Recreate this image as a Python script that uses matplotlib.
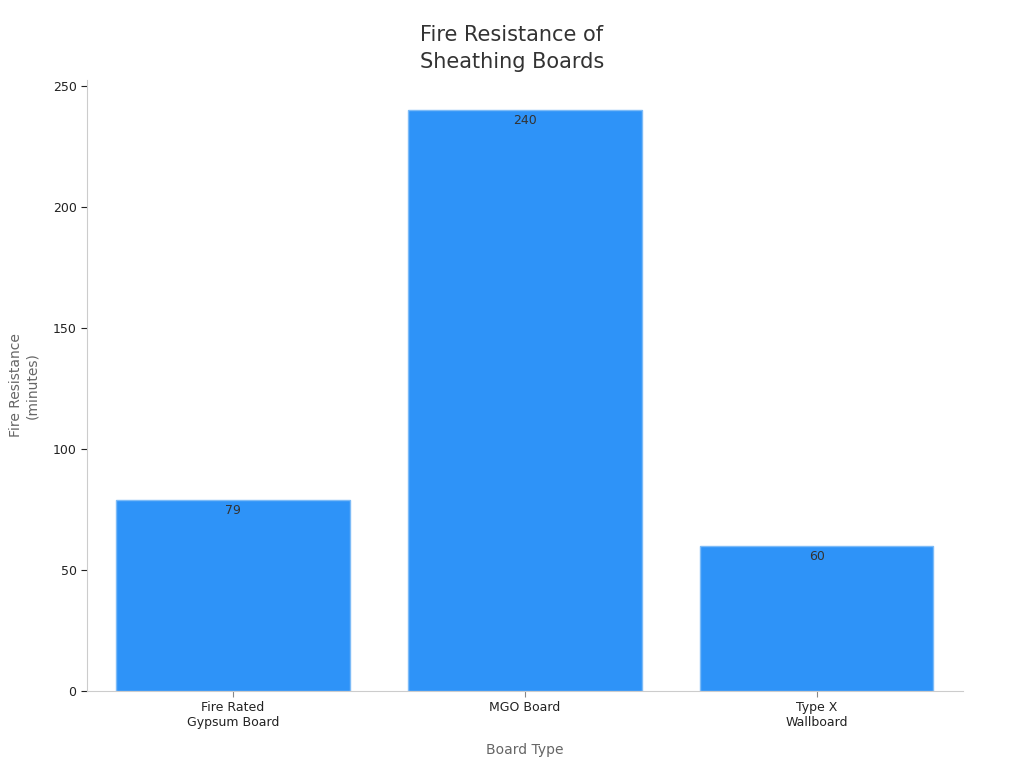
import matplotlib
matplotlib.use("Agg")
import matplotlib.pyplot as plt
import numpy as np

boards = ["Fire Rated\nGypsum Board", "MGO Board", "Type X\nWallboard"]
minutes = [79, 240, 60]

fig = plt.figure(figsize=(10.24, 7.68), dpi=100)
ax = fig.add_axes([0.085, 0.1003, 0.855, 0.7957])

x = np.arange(len(boards))
bars = ax.bar(x, minutes, width=0.8, color="#2E93F8", edgecolor="#7DBBF7", linewidth=1)

for b, v in zip(bars, minutes):
    ax.text(b.get_x() + b.get_width() / 2, v - 1.8, str(v), ha="center", va="top",
            fontsize=9, color="#333333")

ax.set_xlim(-0.5, 2.5)
ax.set_ylim(0, 252.5)
ax.set_yticks([0, 50, 100, 150, 200, 250])
ax.set_xticks(x)
ax.set_xticklabels(boards, fontsize=9, color="#222222")
ax.tick_params(axis="y", labelsize=9, colors="#222222", length=4, width=0.8)
ax.tick_params(axis="x", length=4, width=0.8, color="#888888")

for s in ["top", "right"]:
    ax.spines[s].set_visible(False)
for s in ["left", "bottom"]:
    ax.spines[s].set_color("#CCCCCC")

ax.set_ylabel("Fire Resistance\n(minutes)", fontsize=10, color="#666666", labelpad=10)
ax.set_xlabel("Board Type", fontsize=10, color="#666666", labelpad=10)
# title is centred on the whole figure, not on the axes
fig.suptitle("Fire Resistance of\nSheathing Boards", fontsize=15, color="#333333",
             x=0.5, y=0.968, va="top", linespacing=1.45)

fig.savefig("out.png", dpi=100)
